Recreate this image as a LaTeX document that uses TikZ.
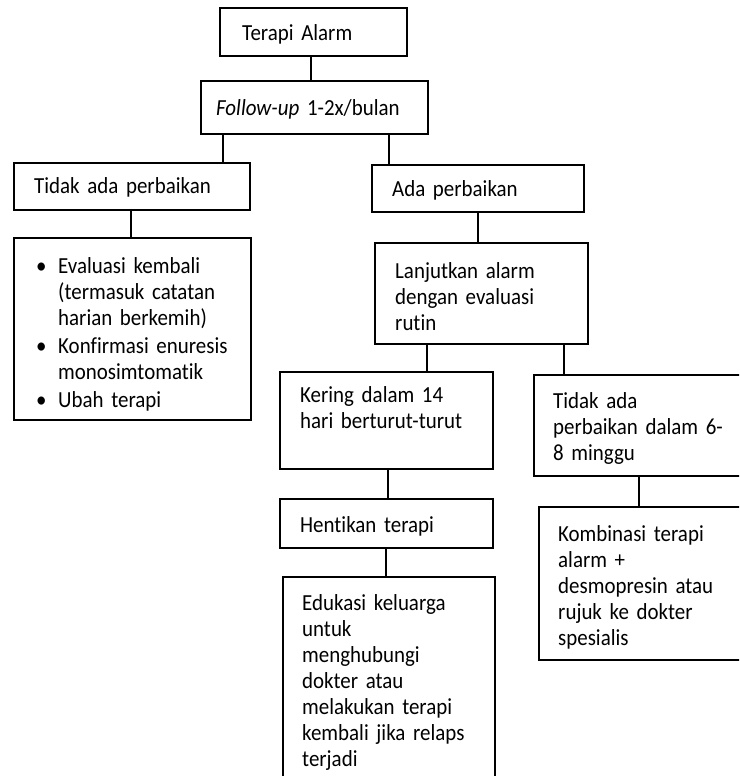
\documentclass[tikz,border=0pt]{standalone}
\usepackage{fontspec}
\setmainfont{Carlito}[Ligatures=NoCommon, FakeStretch=0.91]
\begin{document}
\begin{tikzpicture}[x=1pt,y=-1pt,
  box/.style={draw, line width=1.7pt, rectangle, inner sep=0pt, anchor=north west},
  txt/.style={anchor=base west, inner sep=0pt, text width=240pt, align=left,
              font=\fontsize{23}{26}\selectfont},
  link/.style={line width=1.4pt}]
  \useasboundingbox (0,0) rectangle (739,776);
  \fill[white] (0,0) rectangle (739,776);
  \clip (0,0) rectangle (739,776);

  % boxes
  \node[box, minimum width=187pt, minimum height=48pt]  (alarm)  at (219,7)   {};
  \node[box, minimum width=227pt, minimum height=53pt]  (fu)     at (200,80)  {};
  \node[box, minimum width=236pt, minimum height=47pt]  (tidak)  at (13,162)  {};
  \node[box, minimum width=212pt, minimum height=47pt]  (ada)    at (371,164) {};
  \node[box, minimum width=237pt, minimum height=182pt] (eval)   at (13,237)  {};
  \node[box, minimum width=213pt, minimum height=101pt] (lanjut) at (374,242) {};
  \node[box, minimum width=213pt, minimum height=97pt]  (kering) at (279,371) {};
  \node[box, minimum width=213pt, minimum height=101pt] (tidakb) at (533,374) {};
  \node[box, minimum width=213pt, minimum height=49pt]  (henti)  at (279,498) {};
  \node[box, minimum width=212pt, minimum height=230pt] (edu)    at (282,576) {};
  \node[box, minimum width=213pt, minimum height=153pt] (komb)   at (538,506) {};

  % texts
  \node[txt] (t-alarm)  at (242,41)  {Terapi Alarm};
  \node[txt] (t-fu)     at (216,115) {\textit{Follow-up} 1-2x/bulan};
  \node[txt] (t-tidak)  at (34,193)  {Tidak ada perbaikan};
  \node[txt] (t-ada)    at (392,196) {Ada perbaikan};
  \node[txt] (t-eval)   at (36,273)  {%
    \makebox[22pt][l]{\textbullet}Evaluasi kembali\\
    \hspace*{22pt}(termasuk catatan\\
    \hspace*{22pt}harian berkemih)\\[2pt]
    \makebox[22pt][l]{\textbullet}Konfirmasi enuresis\\
    \hspace*{22pt}monosimtomatik\\[2pt]
    \makebox[22pt][l]{\textbullet}Ubah terapi};
  \node[txt] (t-lanjut) at (395,278) {Lanjutkan alarm\\dengan evaluasi\\rutin};
  \node[txt] (t-kering) at (300,402) {Kering dalam 14\\hari berturut-turut};
  \node[txt] (t-tidakb) at (553,408) {Tidak ada\\perbaikan dalam 6-\\8 minggu};
  \node[txt] (t-henti)  at (300,532) {Hentikan terapi};
  \node[txt] (t-edu)    at (302,610) {Edukasi keluarga\\untuk\\menghubungi\\dokter atau\\melakukan terapi\\kembali jika relaps\\terjadi};
  \node[txt] (t-komb)   at (558,541) {Kombinasi terapi\\alarm +\\desmopresin atau\\rujuk ke dokter\\spesialis};

  % connectors
  \draw[link] ([xshift=92pt]alarm.south west) -- ([xshift=92pt]alarm.south west |- fu.north);
  \draw[link] ([xshift=23pt]fu.south west)    -- ([xshift=23pt]fu.south west |- tidak.north);
  \draw[link] ([xshift=18pt]ada.north west)   -- ([xshift=18pt]ada.north west |- fu.south);
  \draw[link] ([xshift=118pt]tidak.south west) -- ([xshift=118pt]tidak.south west |- eval.north);
  \draw[link] ([xshift=107pt]ada.south west)  -- ([xshift=107pt]ada.south west |- lanjut.north);
  \draw[link] ([xshift=53pt]lanjut.south west) -- ([xshift=53pt]lanjut.south west |- kering.north);
  \draw[link] ([xshift=190pt]lanjut.south west) -- ([xshift=190pt]lanjut.south west |- tidakb.north);
  \draw[link] ([xshift=109pt]kering.south west) -- ([xshift=109pt]kering.south west |- henti.north);
  \draw[link] ([xshift=107pt]henti.south west) -- ([xshift=107pt]henti.south west |- edu.north);
  \draw[link] ([xshift=106pt]tidakb.south west) -- ([xshift=106pt]tidakb.south west |- komb.north);
\end{tikzpicture}
\end{document}
